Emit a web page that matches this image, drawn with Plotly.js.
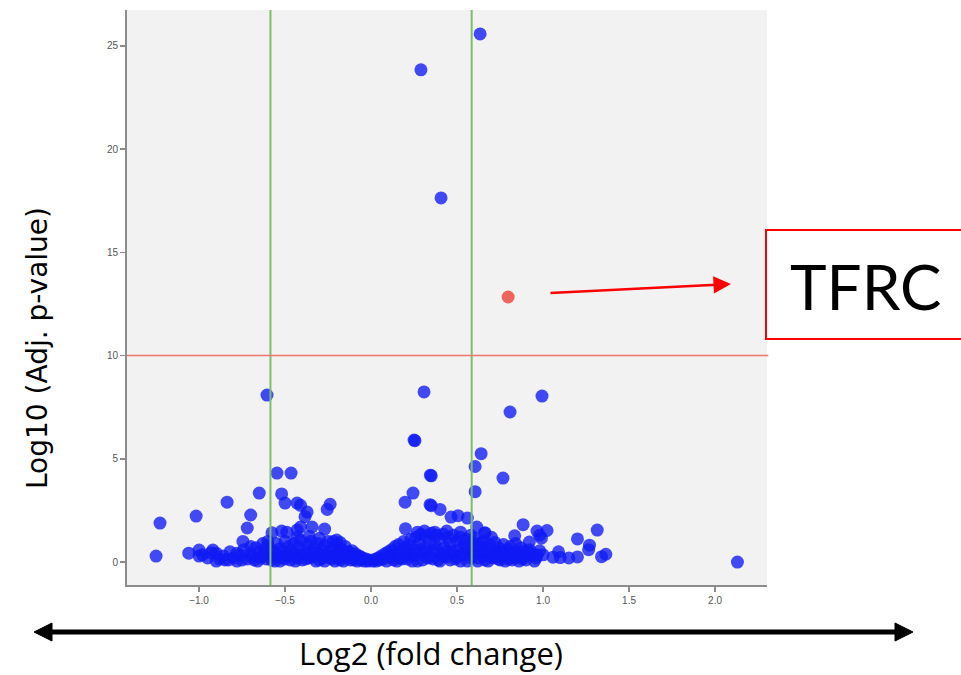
<!DOCTYPE html>
<html>
<head>
<meta charset="utf-8">
<script src="https://cdn.plot.ly/plotly-3.0.1.min.js"></script>
<style>
html,body{margin:0;padding:0;background:#fff;}
#chart{width:961px;height:675px;}
</style>
</head>
<body>
<div id="chart"></div>
<script>
// Outlying / sparse genes (log2 fold change, -log10 adj. p)
var sparseLogFC = [0.634,0.29,0.407,-0.605,0.308,0.994,0.808,0.25,0.255,0.64,0.605,0.345,0.35,0.767,-0.547,-0.465,
  0.605,0.244,0.198,0.343,0.35,0.401,0.465,0.506,0.56,0.2,0.615,0.663,0.884,0.965,1.023,0.98,1.315,1.2,1.27,1.265,
  1.365,1.34,1.09,1.058,1.15,1.2,0.835,0.92,0.99,0.965,0.91,1.1,2.13,
  -0.65,-0.52,-0.837,-0.5,-0.43,-0.41,-0.238,-0.255,-0.372,-0.384,-0.70,-1.017,-1.227,-1.25,-0.72,-0.745,-0.576,
  -0.52,-0.49,-0.41,-0.343,-0.43,-0.27,-0.2,-1.06,-1.0,-1.0,-0.92,-0.9,-0.83,-0.78];
var sparseLogP = [25.58,23.84,17.64,8.09,8.24,8.04,7.27,5.91,5.88,5.25,4.63,4.21,4.18,4.07,4.31,4.31,
  3.41,3.34,2.9,2.78,2.73,2.55,2.18,2.25,2.13,1.62,1.7,1.42,1.81,1.5,1.53,1.3,1.55,1.12,0.82,0.6,
  0.38,0.26,0.5,0.24,0.2,0.25,1.27,0.97,1.16,0.34,0.48,0.22,0.0,
  3.34,3.3,2.9,2.86,2.86,2.75,2.8,2.55,2.42,2.2,2.28,2.23,1.89,0.29,1.65,1.0,1.42,
  1.5,1.45,1.7,1.7,1.55,1.6,1.07,0.43,0.58,0.29,0.58,0.43,0.1,0.43];

// Bulk of non-significant genes
var bulkLogFC = [-0.98,-0.95,-0.93,-0.88,-0.86,-0.82,-0.8,-0.78,-0.76,-0.74,-0.72,-0.7,-0.69,-0.67,-0.66,-0.65,-0.63,-0.62,-0.61,-0.6,
  -0.59,-0.58,-0.57,-0.56,-0.55,-0.54,-0.53,-0.52,-0.51,-0.5,-0.49,-0.48,-0.47,-0.46,-0.45,-0.44,-0.43,-0.42,-0.41,-0.4,
  -0.39,-0.38,-0.37,-0.36,-0.35,-0.34,-0.33,-0.32,-0.31,-0.3,-0.29,-0.28,-0.27,-0.26,-0.25,-0.24,-0.23,-0.22,-0.21,-0.2,
  -0.19,-0.18,-0.17,-0.16,-0.15,-0.14,-0.13,-0.12,-0.11,-0.1,-0.09,-0.08,-0.07,-0.06,-0.05,-0.04,-0.03,-0.02,-0.01,
  -0.9,-0.85,-0.75,-0.68,-0.64,-0.58,-0.53,-0.5,-0.47,-0.44,-0.4,-0.36,-0.33,-0.3,-0.27,-0.24,-0.21,-0.19,-0.16,-0.14,
  -0.12,-0.1,-0.08,-0.06,-0.43,-0.36,-0.3,-0.22,-0.18,-0.6,-0.63,-0.7,
  0.01,0.02,0.03,0.04,0.05,0.06,0.07,0.08,0.09,0.1,0.11,0.12,0.13,0.14,0.15,0.16,0.17,0.18,0.19,0.2,
  0.21,0.22,0.23,0.24,0.25,0.26,0.27,0.28,0.29,0.3,0.31,0.32,0.33,0.34,0.35,0.36,0.37,0.38,0.39,0.4,
  0.41,0.42,0.43,0.44,0.45,0.46,0.47,0.48,0.49,0.5,0.51,0.52,0.53,0.54,0.55,0.56,0.57,0.58,0.59,0.6,
  0.61,0.62,0.63,0.64,0.65,0.66,0.67,0.68,0.69,0.7,0.71,0.72,0.73,0.74,0.75,0.76,0.77,0.78,0.79,0.8,
  0.81,0.82,0.83,0.84,0.85,0.86,0.87,0.88,0.89,0.9,0.92,0.94,0.96,0.98,1.0,
  0.12,0.15,0.18,0.2,0.22,0.24,0.26,0.28,0.3,0.32,0.34,0.36,0.38,0.4,0.42,0.44,0.46,0.48,0.5,0.52,
  0.54,0.56,0.58,0.6,0.62,0.64,0.66,0.68,0.7,0.72,0.74,0.76,0.78,0.8,0.82,0.84,0.86,0.9,0.95,
  0.27,0.31,0.37,0.44,0.52,0.58,0.66,0.7];
var bulkLogP = [0.35,0.2,0.45,0.15,0.3,0.5,0.2,0.05,0.35,0.6,0.15,0.4,0.25,0.7,0.05,0.45,0.3,0.6,0.15,0.8,
  0.4,0.25,0.55,0.05,0.9,0.35,0.65,0.2,0.5,1.0,0.3,0.75,0.1,0.55,0.9,0.4,0.2,0.7,1.05,0.35,
  0.55,0.15,0.85,0.45,1.0,0.25,0.65,0.05,0.9,0.4,0.6,0.2,0.8,0.35,1.0,0.5,0.15,0.7,0.3,0.85,
  0.45,0.1,0.6,0.3,0.75,0.2,0.5,0.35,0.55,0.1,0.4,0.25,0.3,0.1,0.2,0.05,0.15,0.05,0.1,
  0.05,0.1,0.1,0.1,0.2,0.1,0.05,0.15,0.35,0.05,0.1,0.2,0.4,0.1,0.05,0.25,0.05,0.2,0.05,0.45,
  0.1,0.3,0.05,0.25,1.2,1.25,1.15,1.0,0.95,1.0,0.9,0.75,
  0.05,0.12,0.05,0.2,0.1,0.3,0.15,0.4,0.05,0.5,0.25,0.6,0.1,0.75,0.35,0.85,0.2,0.55,1.0,0.4,
  0.15,0.8,1.1,0.3,0.6,1.2,0.05,0.9,1.35,0.45,0.7,1.25,0.2,1.0,1.4,0.55,0.85,1.3,0.1,1.1,
  0.4,1.35,0.7,0.25,1.2,0.9,0.5,1.3,0.15,1.0,0.6,1.2,0.35,0.8,1.1,0.05,0.5,0.95,0.3,1.15,
  0.65,0.2,0.9,0.45,1.0,0.1,0.7,0.35,0.85,0.55,0.2,0.95,0.4,0.7,0.1,0.5,0.85,0.3,0.6,0.15,
  0.75,0.45,0.25,0.9,0.5,0.35,0.7,0.15,0.55,0.3,0.6,0.4,0.2,0.55,0.35,
  0.3,0.05,0.15,0.7,0.45,0.05,0.35,0.6,0.1,0.5,0.25,0.15,0.6,0.05,0.3,0.55,0.1,0.4,0.25,0.05,
  0.45,0.7,0.2,0.4,0.05,0.75,0.3,0.05,0.25,0.5,0.15,0.3,0.05,0.4,0.1,0.2,0.05,0.1,0.05,
  1.45,1.5,1.45,1.5,1.45,1.3,1.4,1.2];

// Highlighted gene
var tfrcLogFC = [0.797];
var tfrcLogP = [12.84];
var tfrcLabel = ["TFRC"];

// Thresholds
var fcThresholds = [-0.585, 0.585];
var pThreshold = 10;

// Axis ticks
var xTickVals = [-1.0,-0.5,0.0,0.5,1.0,1.5,2.0];
var yTickVals = [0,5,10,15,20,25];

// pixel helpers for decorations outside the plot area
var L = 127, T = 10, W = 640, H = 575;
function px(x){ return (x - L) / W; }
function py(y){ return (T + H - y) / H; }

var blue = 'rgb(15,25,245)';
var traces = [
  {x: bulkLogFC, y: bulkLogP, type: 'scatter', mode: 'markers', hoverinfo: 'x+y',
   marker: {size: 13, color: blue, opacity: 0.78, line: {width: 0}}, showlegend: false},
  {x: sparseLogFC, y: sparseLogP, type: 'scatter', mode: 'markers', hoverinfo: 'x+y',
   marker: {size: 13, color: blue, opacity: 0.78, line: {width: 0}}, showlegend: false},
  {x: tfrcLogFC, y: tfrcLogP, type: 'scatter', mode: 'markers', text: tfrcLabel,
   marker: {size: 13, color: 'rgb(236,85,75)', opacity: 0.9, line: {width: 0}}, showlegend: false}
];

var shapes = [];
fcThresholds.forEach(function(v){
  shapes.push({type: 'line', xref: 'x', yref: 'paper', x0: v, x1: v, y0: 0, y1: 1,
    line: {color: 'rgb(125,190,105)', width: 2}, layer: 'above'});
});
shapes.push({type: 'line', xref: 'paper', yref: 'y', x0: 0, x1: 1.002, y0: pThreshold, y1: pThreshold,
  line: {color: 'rgb(236,120,110)', width: 1.5}, layer: 'above'});

// double-headed arrow under the x axis
shapes.push({type: 'line', xref: 'paper', yref: 'paper', x0: px(48), x1: px(899), y0: py(632), y1: py(632),
  line: {color: '#000', width: 5}});
shapes.push({type: 'path', xref: 'paper', yref: 'paper',
  path: 'M ' + px(34) + ' ' + py(632) + ' L ' + px(52) + ' ' + py(623) + ' L ' + px(52) + ' ' + py(641) + ' Z',
  fillcolor: '#000', line: {color: '#000', width: 1}});
shapes.push({type: 'path', xref: 'paper', yref: 'paper',
  path: 'M ' + px(913) + ' ' + py(632) + ' L ' + px(895) + ' ' + py(623) + ' L ' + px(895) + ' ' + py(641) + ' Z',
  fillcolor: '#000', line: {color: '#000', width: 1}});
// TFRC box
shapes.push({type: 'rect', xref: 'paper', yref: 'paper', x0: px(766), x1: px(964), y0: py(339), y1: py(230),
  line: {color: '#ff0000', width: 2}, fillcolor: 'rgba(255,255,255,1)'});

var annotations = [
  {xref: 'paper', yref: 'paper', x: px(37), y: py(348), text: 'Log10 (Adj. p-value)', showarrow: false,
   textangle: -90, xanchor: 'center', yanchor: 'middle',
   font: {family: 'DejaVu Sans, sans-serif', size: 28, color: '#000'}},
  {xref: 'paper', yref: 'paper', x: px(431), y: py(653), text: 'Log2 (fold change)', showarrow: false,
   xanchor: 'center', yanchor: 'middle',
   font: {family: 'Open Sans, sans-serif', size: 31, color: '#000'}},
  {xref: 'paper', yref: 'paper', x: px(866), y: py(286), text: tfrcLabel[0], showarrow: false,
   xanchor: 'center', yanchor: 'middle',
   font: {family: 'Lato, sans-serif', size: 62, color: '#000'}},
  {xref: 'paper', yref: 'paper', x: px(731), y: py(284), text: '', showarrow: true,
   axref: 'pixel', ayref: 'pixel', ax: -182, ay: 9,
   arrowhead: 2, arrowsize: 1.4, arrowwidth: 2.5, arrowcolor: '#ff0000', standoff: 0}
];

var layout = {
  width: 961, height: 675,
  margin: {l: L, r: 961 - L - W, t: T, b: 675 - T - H, pad: 0},
  paper_bgcolor: '#ffffff', plot_bgcolor: '#f2f2f2',
  xaxis: {range: [-1.419, 2.302], tickvals: xTickVals, tickformat: '.1f', showgrid: false, zeroline: false,
    showline: true, linecolor: '#8c8c8c', linewidth: 2, ticks: 'outside', ticklen: 5, tickwidth: 1.5,
    tickcolor: '#8c8c8c', tickfont: {family: 'Liberation Sans, Arial, sans-serif', size: 10, color: '#555'}},
  yaxis: {range: [-1.11, 26.74], tickvals: yTickVals, showgrid: false, zeroline: false,
    showline: true, linecolor: '#8c8c8c', linewidth: 2, ticks: 'outside', ticklen: 5, tickwidth: 1.5,
    tickcolor: '#8c8c8c', tickfont: {family: 'Liberation Sans, Arial, sans-serif', size: 10, color: '#555'}},
  shapes: shapes,
  annotations: annotations,
  showlegend: false,
  hovermode: 'closest'
};

Plotly.newPlot('chart', traces, layout, {displayModeBar: false, staticPlot: true});
</script>
</body>
</html>
